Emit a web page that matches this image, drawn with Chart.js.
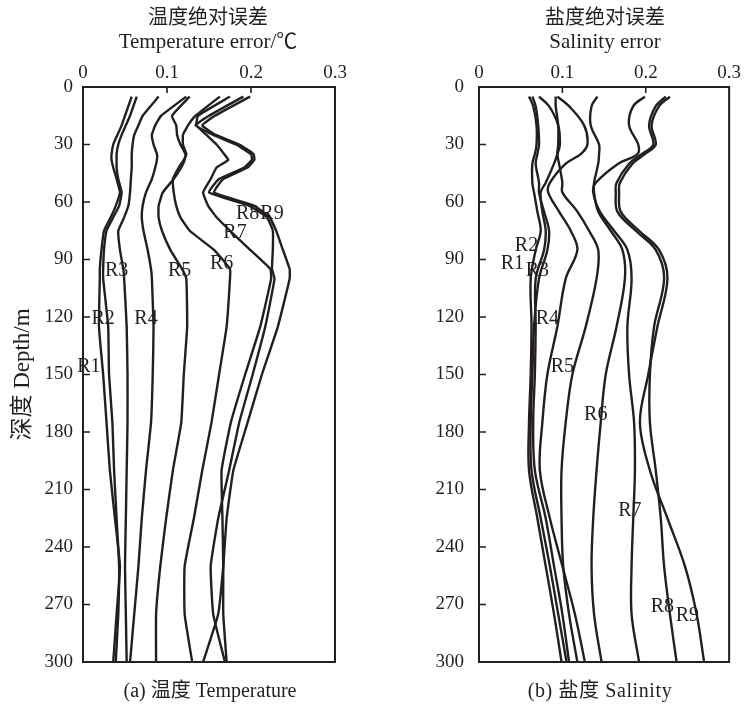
<!DOCTYPE html>
<html>
<head>
<meta charset="utf-8">
<script src="https://cdn.jsdelivr.net/npm/chart.js@4.4.1/dist/chart.umd.min.js"></script>
<style>
  html, body { margin: 0; padding: 0; background: #ffffff; }
  #wrap { position: relative; width: 744px; height: 704px; overflow: hidden; }
  .pane { position: absolute; top: 0; width: 372px; height: 704px; }
  .txt {
    position: absolute; white-space: nowrap; line-height: 1;
    transform: translateX(-50%); color: #231f20;
    font-family: "Liberation Serif", "Noto Sans CJK SC", serif;
  }
  .cjk { font-family: "Noto Sans CJK SC", sans-serif; }
</style>
</head>
<body>
<div id="wrap">
  <div class="pane" style="left:0"><canvas id="tempChart" width="372" height="704"></canvas></div>
  <div class="pane" style="left:372px"><canvas id="salChart" width="372" height="704"></canvas></div>

  <div class="txt cjk" style="left:208px; top:6px; font-size:20px;">温度绝对误差</div>
  <div class="txt" style="left:208px; top:31px; font-size:21px;">Temperature error/℃</div>
  <div class="txt cjk" style="left:605px; top:6px; font-size:20px;">盐度绝对误差</div>
  <div class="txt" style="left:605px; top:31px; font-size:21px;">Salinity error</div>

  <div class="txt" style="left:210px; top:680px; font-size:20px;">(a) 温度 Temperature</div>
  <div class="txt" style="left:600px; top:680px; font-size:20px; letter-spacing:0.6px;">(b) 盐度 Salinity</div>
</div>

<script>
// Depth levels (m) of each profile set
const tempDepths = [5, 15, 20, 25, 30, 35, 38, 42, 48, 55, 62, 68, 75, 85, 95, 100, 125, 150, 175, 200, 225, 250, 275, 300];
const salDepths = [5, 10, 20, 30, 35, 40, 50, 55, 65, 75, 85, 100, 125, 150, 175, 200, 225, 250, 275, 300];
const seriesNames = ['R1', 'R2', 'R3', 'R4', 'R5', 'R6', 'R7', 'R8', 'R9'];
const errorTicks = [0, 0.1, 0.2, 0.3];
const depthTicks = [0, 30, 60, 90, 120, 150, 180, 210, 240, 270, 300];

// Temperature absolute error (°C) per run
const tempR1 = [0.058, 0.050, 0.046, 0.041, 0.036, 0.034, 0.034, 0.036, 0.040, 0.044, 0.039, 0.033, 0.025, 0.022, 0.020, 0.020, 0.019, 0.024, 0.028, 0.032, 0.038, 0.044, 0.040, 0.036];
const tempR2 = [0.064, 0.056, 0.051, 0.046, 0.042, 0.040, 0.040, 0.040, 0.042, 0.046, 0.043, 0.036, 0.028, 0.025, 0.024, 0.024, 0.030, 0.031, 0.035, 0.037, 0.040, 0.043, 0.042, 0.039];
const tempR3 = [0.090, 0.071, 0.066, 0.061, 0.059, 0.058, 0.058, 0.058, 0.057, 0.056, 0.054, 0.049, 0.042, 0.044, 0.048, 0.049, 0.052, 0.053, 0.053, 0.052, 0.051, 0.050, 0.051, 0.052];
const tempR4 = [0.123, 0.093, 0.086, 0.082, 0.084, 0.088, 0.088, 0.086, 0.082, 0.075, 0.071, 0.070, 0.072, 0.077, 0.081, 0.082, 0.084, 0.083, 0.081, 0.075, 0.070, 0.066, 0.061, 0.056];
const tempR5 = [0.127, 0.106, 0.111, 0.112, 0.116, 0.122, 0.121, 0.117, 0.108, 0.095, 0.090, 0.090, 0.094, 0.104, 0.118, 0.123, 0.124, 0.120, 0.117, 0.107, 0.099, 0.092, 0.087, 0.087];
const tempR6 = [0.163, 0.134, 0.125, 0.119, 0.119, 0.123, 0.120, 0.114, 0.107, 0.108, 0.111, 0.116, 0.127, 0.156, 0.175, 0.175, 0.171, 0.162, 0.153, 0.142, 0.132, 0.121, 0.121, 0.130];
const tempR7 = [0.175, 0.137, 0.135, 0.147, 0.159, 0.168, 0.173, 0.159, 0.152, 0.143, 0.149, 0.159, 0.175, 0.199, 0.223, 0.224, 0.211, 0.193, 0.176, 0.165, 0.166, 0.167, 0.167, 0.171];
const tempR8 = [0.191, 0.150, 0.134, 0.155, 0.182, 0.200, 0.201, 0.192, 0.162, 0.150, 0.198, 0.219, 0.226, 0.226, 0.225, 0.228, 0.217, 0.202, 0.186, 0.174, 0.161, 0.152, 0.155, 0.169];
const tempR9 = [0.199, 0.157, 0.142, 0.158, 0.186, 0.203, 0.204, 0.196, 0.167, 0.156, 0.204, 0.222, 0.230, 0.238, 0.246, 0.246, 0.232, 0.213, 0.196, 0.179, 0.171, 0.167, 0.161, 0.143];

// Salinity absolute error per run
const salR1 = [0.060, 0.065, 0.069, 0.069, 0.067, 0.064, 0.064, 0.066, 0.070, 0.074, 0.068, 0.062, 0.063, 0.062, 0.060, 0.060, 0.070, 0.080, 0.090, 0.099];
const salR2 = [0.064, 0.068, 0.071, 0.072, 0.070, 0.068, 0.072, 0.072, 0.078, 0.084, 0.082, 0.072, 0.066, 0.064, 0.062, 0.063, 0.074, 0.085, 0.095, 0.105];
const salR3 = [0.072, 0.084, 0.095, 0.097, 0.094, 0.090, 0.080, 0.074, 0.076, 0.080, 0.078, 0.068, 0.068, 0.067, 0.065, 0.067, 0.080, 0.090, 0.100, 0.108];
const salR4 = [0.094, 0.108, 0.126, 0.130, 0.122, 0.104, 0.085, 0.083, 0.096, 0.110, 0.118, 0.104, 0.094, 0.082, 0.076, 0.073, 0.085, 0.100, 0.115, 0.127];
const salR5 = [0.092, 0.092, 0.095, 0.095, 0.094, 0.096, 0.100, 0.100, 0.118, 0.132, 0.143, 0.141, 0.128, 0.112, 0.104, 0.099, 0.099, 0.101, 0.108, 0.118];
const salR6 = [0.142, 0.135, 0.134, 0.144, 0.144, 0.143, 0.138, 0.138, 0.143, 0.158, 0.172, 0.175, 0.165, 0.152, 0.146, 0.141, 0.137, 0.135, 0.138, 0.147];
const salR7 = [0.199, 0.185, 0.180, 0.191, 0.190, 0.167, 0.140, 0.137, 0.145, 0.162, 0.178, 0.183, 0.178, 0.180, 0.186, 0.187, 0.185, 0.183, 0.183, 0.192];
const salR8 = [0.224, 0.212, 0.204, 0.209, 0.195, 0.180, 0.165, 0.164, 0.166, 0.188, 0.212, 0.222, 0.210, 0.205, 0.205, 0.212, 0.218, 0.222, 0.229, 0.237];
const salR9 = [0.229, 0.216, 0.207, 0.212, 0.199, 0.184, 0.169, 0.168, 0.170, 0.192, 0.216, 0.226, 0.214, 0.203, 0.193, 0.205, 0.226, 0.247, 0.261, 0.270];

// Where each run name is written: [name, error, depth]
const tempTags = [['R1', 0.007, 146], ['R2', 0.024, 121], ['R3', 0.040, 96], ['R4', 0.075, 121], ['R5', 0.115, 96], ['R6', 0.165, 92], ['R7', 0.181, 76], ['R8', 0.196, 66], ['R9', 0.225, 66]];
const salTags = [['R1', 0.040, 92], ['R2', 0.057, 83], ['R3', 0.070, 96], ['R4', 0.082, 121], ['R5', 0.100, 146], ['R6', 0.140, 171], ['R7', 0.181, 221], ['R8', 0.220, 271], ['R9', 0.250, 276]];

const INK = '#231f20';
const SERIF = '"Liberation Serif", "Noto Sans CJK SC", serif';

// Box frame, inward tick marks and run names
const framePlugin = {
  id: 'frameTicksTags',
  afterDatasetsDraw(chart, args, opts) {
    const { ctx, chartArea: a, scales } = chart;
    const xs = scales.x, ys = scales.y;
    ctx.save();
    ctx.strokeStyle = INK;
    ctx.lineWidth = 2;
    ctx.strokeRect(a.left, a.top, a.right - a.left, a.bottom - a.top);
    ctx.lineWidth = 1.6;
    ctx.beginPath();
    xs.ticks.forEach(t => {
      const px = xs.getPixelForValue(t.value);
      if (px > a.left + 2 && px < a.right - 2) { ctx.moveTo(px, a.top); ctx.lineTo(px, a.top + 6); }
    });
    ys.ticks.forEach(t => {
      const py = ys.getPixelForValue(t.value);
      if (py > a.top + 2 && py < a.bottom - 2) { ctx.moveTo(a.left, py); ctx.lineTo(a.left + 7, py); }
    });
    ctx.stroke();
    ctx.fillStyle = INK;
    ctx.font = '20px ' + SERIF;
    ctx.textAlign = 'center';
    ctx.textBaseline = 'middle';
    (opts.tags || []).forEach(([name, v, d]) => {
      ctx.fillText(name, xs.getPixelForValue(v), ys.getPixelForValue(d));
    });
    ctx.restore();
  }
};

function buildChart(canvasId, depths, runs, tags, axisW, padRight, labelPad, tension, withTitle) {
  const datasets = runs.map((vals, i) => ({
    label: seriesNames[i],
    data: vals.map((v, k) => ({ x: v, y: depths[k] })),
    showLine: true,
    borderColor: INK,
    borderWidth: 2.4,
    pointRadius: 0,
    tension: tension,
    fill: false
  }));
  return new Chart(document.getElementById(canvasId), {
    type: 'scatter',
    data: { datasets },
    plugins: [framePlugin],
    options: {
      responsive: false,
      animation: false,
      events: [],
      layout: { padding: { top: 0, right: padRight, bottom: 42, left: 0 } },
      plugins: {
        legend: { display: false },
        tooltip: { enabled: false },
        frameTicksTags: { tags }
      },
      scales: {
        x: {
          type: 'linear', position: 'top', min: 0, max: 0.3,
          afterBuildTicks: s => { s.ticks = errorTicks.map(v => ({ value: v })); },
          ticks: {
            padding: 3, color: INK, maxRotation: 0,
            font: { family: SERIF, size: 19 },
            callback: v => String(Math.round(v * 10) / 10)
          },
          grid: { display: false, drawTicks: false },
          border: { display: false },
          afterFit: s => { s.height = 87; }
        },
        y: {
          type: 'linear', reverse: true, min: 0, max: 300,
          afterBuildTicks: s => { s.ticks = depthTicks.map(v => ({ value: v })); },
          ticks: {
            padding: labelPad, color: INK,
            font: { family: SERIF, size: 19 }
          },
          title: {
            display: withTitle, text: '深度 Depth/m', color: INK,
            font: { family: SERIF, size: 23 },
            padding: { top: 9, bottom: 0 }
          },
          grid: { display: false, drawTicks: false },
          border: { display: false },
          afterFit: s => { s.width = axisW; }
        }
      }
    }
  });
}

buildChart('tempChart', tempDepths,
  [tempR1, tempR2, tempR3, tempR4, tempR5, tempR6, tempR7, tempR8, tempR9],
  tempTags, 83, 37, 10, 0.12, true);
buildChart('salChart', salDepths,
  [salR1, salR2, salR3, salR4, salR5, salR6, salR7, salR8, salR9],
  salTags, 107, 13, 15, 0.35, false);
</script>
</body>
</html>
